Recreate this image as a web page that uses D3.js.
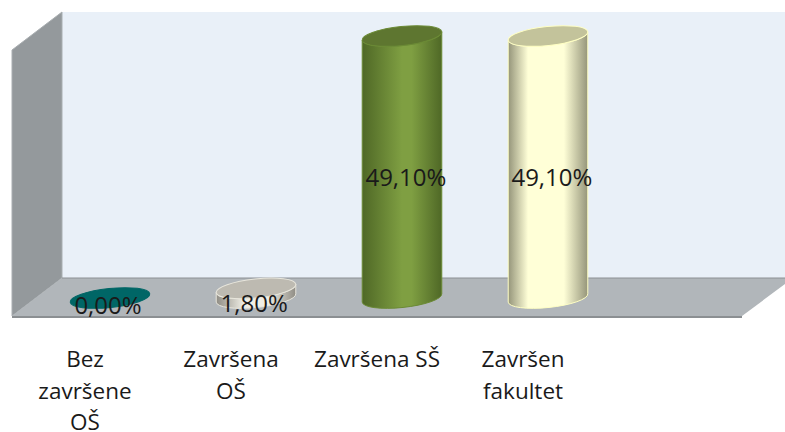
<!DOCTYPE html>
<html>
<head>
<meta charset="utf-8">
<script src="https://cdn.jsdelivr.net/npm/d3@7"></script>
<style>
  html, body { margin: 0; padding: 0; background: #fff; }
  svg { display: block; }
  text { font-family: "Open Sans", sans-serif; fill: #1a1a1a; }
</style>
</head>
<body>
<script>
// chart data
var categories = ["Bez završene OŠ", "Završena OŠ", "Završena SŠ", "Završen fakultet"];
var tickLines = [["Bez", "završene", "OŠ"], ["Završena", "OŠ"], ["Završena SŠ"], ["Završen", "fakultet"]];
var values = [0, 1.8, 49.1, 49.1];
var valueLabels = ["0,00%", "1,80%", "49,10%", "49,10%"];

// colours per bar: edge, middle, top cap, outline
var edgeColors = ["#004c4c", "#8f8c84", "#4f6826", "#95957a"];
var midColors = ["#006a6a", "#f0efe6", "#7f9f42", "#ffffd7"];
var capColors = ["#006666", "#bdbab1", "#5e7630", "#c3c39b"];
var strokeColors = ["#006666", "#e8e6dc", "#6b8a35", "#ffffc4"];
// where the bright part of the shading starts and ends
var shadeStart = ["35%", "35%", "50%", "25%"];
var shadeEnd = ["65%", "65%", "62%", "70%"];

var w = 785, h = 432;

var svg = d3.select("body").append("svg")
  .attr("width", w)
  .attr("height", h);

// 3d box of the chart
var back = {left: 62, right: 785, top: 12, bottom: 278};
var front = {left: 12, right: 742, bottom: 316};
var depthY = front.bottom - back.bottom;

var defs = svg.append("defs");

categories.forEach(function(c, i) {
  var g = defs.append("linearGradient").attr("id", "bar" + i);
  g.append("stop").attr("offset", "0%").attr("stop-color", edgeColors[i]);
  g.append("stop").attr("offset", shadeStart[i]).attr("stop-color", midColors[i]);
  g.append("stop").attr("offset", shadeEnd[i]).attr("stop-color", midColors[i]);
  g.append("stop").attr("offset", "100%").attr("stop-color", edgeColors[i]);
});

// back wall
svg.append("rect")
  .attr("x", back.left)
  .attr("y", back.top)
  .attr("width", back.right - back.left)
  .attr("height", back.bottom - back.top)
  .attr("fill", "#e9f0f8");

// left wall
svg.append("path")
  .attr("d", d3.line()([[front.left, back.top + depthY], [back.left, back.top], [back.left, back.bottom], [front.left, front.bottom]]) + "Z")
  .attr("fill", "#94999c")
  .attr("stroke", "#a9aeb1")
  .attr("stroke-width", 1);

// floor
svg.append("path")
  .attr("d", d3.line()([[back.left, back.bottom], [back.right, back.bottom], [back.right, back.bottom + 6], [front.right, front.bottom], [front.left, front.bottom]]) + "Z")
  .attr("fill", "#b1b6ba");

svg.append("line")
  .attr("x1", back.left).attr("x2", back.right)
  .attr("y1", back.bottom).attr("y2", back.bottom)
  .attr("stroke", "#8c9094")
  .attr("stroke-width", 1);

svg.append("rect")
  .attr("x", front.left)
  .attr("y", front.bottom)
  .attr("width", front.right - front.left)
  .attr("height", 2)
  .attr("fill", "#8b8f92");

// scales
var x = d3.scaleBand()
  .domain(categories)
  .range([37, 621])
  .paddingInner(0.452)
  .paddingOuter(0.226);

var y = d3.scaleLinear()
  .domain([0, 49.1])
  .range([298, 36]);

var rx = x.bandwidth() / 2;
var ry = 9.5;
var tilt = -6;
var rad = tilt * Math.PI / 180;
var dx = rx * Math.cos(rad);
var dy = rx * Math.sin(rad);

// cylinders
var bars = svg.selectAll(".bar")
  .data(values)
  .enter().append("g")
  .attr("class", "bar")
  .attr("transform", function(d, i) { return "translate(" + (x(categories[i]) + rx) + ",0)"; });

bars.filter(function(d) { return d > 0; })
  .append("path")
  .attr("d", function(d) {
    var top = y(d), base = y(0);
    return "M" + (-dx) + "," + (top - dy) +
      "L" + (-dx) + "," + (base - dy) +
      "A" + rx + "," + ry + " " + tilt + " 0 0 " + dx + "," + (base + dy) +
      "L" + dx + "," + (top + dy) +
      "A" + rx + "," + ry + " " + tilt + " 0 1 " + (-dx) + "," + (top - dy) + "Z";
  })
  .attr("fill", function(d, i) { return "url(#bar" + (i + 1) + ")"; })
  .attr("stroke", function(d, i) { return strokeColors[i + 1]; })
  .attr("stroke-width", 1);

bars.append("ellipse")
  .attr("cx", 0)
  .attr("cy", function(d) { return y(d); })
  .attr("rx", rx)
  .attr("ry", ry)
  .attr("transform", function(d) { return "rotate(" + tilt + " 0 " + y(d) + ")"; })
  .attr("fill", function(d, i) { return capColors[i]; })
  .attr("stroke", function(d, i) { return strokeColors[i]; })
  .attr("stroke-width", 1);

// value labels
svg.selectAll(".value")
  .data(values)
  .enter().append("text")
  .attr("class", "value")
  .attr("x", function(d, i) { return x(categories[i]) + rx - 2 + d * 0.12; })
  .attr("y", function(d) { return y(d / 2) + (d > 0 ? 18.7 : 15.5); })
  .attr("text-anchor", "middle")
  .style("font-size", "24px")
  .text(function(d, i) { return valueLabels[i]; });

// category axis, labels sit left of the bars because of the 3d depth
var axis = svg.append("g")
  .attr("transform", "translate(-25,339)")
  .call(d3.axisBottom(x).tickSize(0).tickPadding(0));

axis.select(".domain").remove();

axis.selectAll(".tick text")
  .attr("dy", null)
  .attr("y", null)
  .attr("fill", null)
  .style("font-size", "22.5px")
  .style("font-family", "'Open Sans', sans-serif")
  .text(null)
  .each(function(d, i) {
    var t = d3.select(this);
    tickLines[i].forEach(function(line, j) {
      t.append("tspan")
        .attr("x", 0)
        .attr("y", 28 + j * 31.5)
        .text(line);
    });
  });
</script>
</body>
</html>
